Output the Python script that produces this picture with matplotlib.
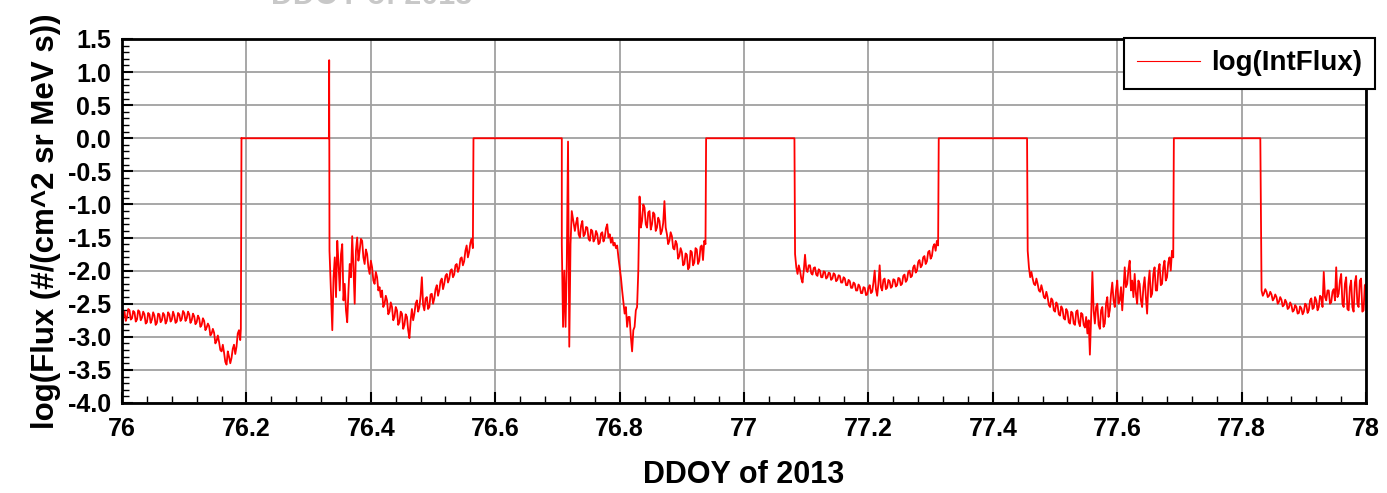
import numpy as np
import matplotlib
matplotlib.use('Agg')
import matplotlib.pyplot as plt
from matplotlib.ticker import MultipleLocator, FormatStrFormatter, FuncFormatter

plt.rcParams['font.family'] = ['Liberation Sans', 'DejaVu Sans']
plt.rcParams['font.weight'] = 'bold'
plt.rcParams['axes.unicode_minus'] = False

# log(IntFlux) samples: (start DDOY, step, values)
flux_a = [-2.85, -2.70, -2.62, -2.76, -2.70, -2.58, -2.60, -2.74, -2.72, -2.61,
          -2.63, -2.77, -2.74, -2.60, -2.62, -2.75, -2.71, -2.62, -2.66, -2.80,
          -2.78, -2.64, -2.66, -2.79, -2.74, -2.63, -2.68, -2.82, -2.79, -2.65,
          -2.66, -2.78, -2.75, -2.64, -2.67, -2.80, -2.76, -2.63, -2.66, -2.77,
          -2.74, -2.62, -2.68, -2.79, -2.77, -2.64, -2.66, -2.76, -2.73, -2.61,
          -2.64, -2.76, -2.72, -2.62, -2.66, -2.79, -2.75, -2.65, -2.69, -2.81,
          -2.78, -2.68, -2.72, -2.85, -2.82, -2.72, -2.76, -2.90, -2.86, -2.80,
          -2.84, -2.98, -2.95, -2.88, -2.94, -3.10, -3.06, -2.98, -3.08, -3.20,
          -3.22, -3.12, -3.24, -3.38, -3.42, -3.22, -3.30, -3.40, -3.32, -3.18,
          -3.12, -3.26, -3.15, -2.95, -2.90, -3.05]
flux_b = [-2.90, -2.10, -1.80, -2.40, -1.55, -1.90, -2.30, -1.75, -1.60, -2.45,
          -2.20, -2.60, -2.78, -2.30, -1.90, -2.10, -1.48, -1.95, -2.50, -1.70,
          -1.50, -1.85, -1.70, -1.52, -1.55, -1.80, -1.90, -1.68, -1.75, -1.95,
          -2.05, -1.85, -1.95, -2.15, -2.20, -2.02, -2.10, -2.30, -2.25, -2.40,
          -2.30, -2.55, -2.50, -2.38, -2.45, -2.66, -2.62, -2.48, -2.55, -2.75,
          -2.70, -2.55, -2.60, -2.82, -2.78, -2.62, -2.65, -2.88, -2.82, -2.66,
          -2.70, -2.90, -3.02, -2.75, -2.58, -2.75, -2.65, -2.50, -2.45, -2.62,
          -2.55, -2.38, -2.10, -2.52, -2.60, -2.42, -2.40, -2.58, -2.55, -2.36,
          -2.35, -2.50, -2.42, -2.28, -2.22, -2.38, -2.30, -2.16, -2.12, -2.28,
          -2.20, -2.08, -2.05, -2.18, -2.12, -2.00, -1.98, -2.10, -2.06, -1.92,
          -1.90, -2.02, -1.96, -1.82, -1.80, -1.92, -1.86, -1.70, -1.62, -1.80,
          -1.72, -1.58, -1.52, -1.66]
flux_c = [-1.60, -2.85, -2.00, -2.85, -1.90, -0.05, -3.15, -1.60, -1.10]
flux_d = [-1.40, -1.28, -1.20, -1.45, -1.50, -1.32, -1.25, -1.48, -1.45, -1.34,
          -1.35, -1.52, -1.55, -1.38, -1.40, -1.56, -1.52, -1.40, -1.45, -1.60,
          -1.58, -1.44, -1.42, -1.56, -1.50, -1.36, -1.30, -1.50, -1.45, -1.58,
          -1.50, -1.62, -1.58, -1.66, -1.62, -1.80, -1.95, -2.10, -2.30, -2.48,
          -2.65, -2.55, -2.85, -2.70, -2.70, -3.00, -3.22, -2.90, -2.85, -2.60,
          -2.55, -2.00, -0.88, -1.35, -1.25, -1.00, -1.05, -1.30, -1.35, -1.12,
          -1.10, -1.38, -1.30, -1.12, -1.15, -1.40, -1.35, -1.20, -1.25, -1.45,
          -1.40, -1.28, -0.95, -1.35, -1.45, -1.60, -1.55, -1.42, -1.48, -1.66,
          -1.68, -1.55, -1.60, -1.82, -1.78, -1.66, -1.72, -1.92, -1.90, -1.74,
          -1.76, -1.98, -1.95, -1.70, -1.72, -1.92, -1.88, -1.66, -1.68, -1.90,
          -1.85, -1.64, -1.62, -1.84, -1.55, -1.60]
flux_e = [-1.75, -1.95, -2.05, -1.92, -2.00, -2.12, -2.18, -2.00, -1.76, -1.98,
          -2.02, -1.92, -1.92, -2.04, -2.06, -1.96, -1.95, -2.06, -2.08, -1.98,
          -2.00, -2.10, -2.10, -2.01, -2.02, -2.12, -2.10, -2.03, -2.04, -2.14,
          -2.12, -2.04, -2.06, -2.16, -2.14, -2.07, -2.08, -2.18, -2.18, -2.10,
          -2.12, -2.22, -2.22, -2.14, -2.16, -2.26, -2.26, -2.18, -2.20, -2.30,
          -2.30, -2.21, -2.24, -2.34, -2.34, -2.25, -2.26, -2.37, -2.36, -2.26,
          -2.22, -2.34, -2.32, -2.18, -2.00, -2.28, -2.38, -2.20, -1.92, -2.25,
          -2.30, -2.14, -2.12, -2.28, -2.26, -2.14, -2.16, -2.26, -2.24, -2.13,
          -2.14, -2.24, -2.22, -2.11, -2.12, -2.22, -2.20, -2.08, -2.06, -2.17,
          -2.14, -2.02, -2.00, -2.10, -2.08, -1.95, -1.92, -2.03, -2.00, -1.87,
          -1.84, -1.95, -1.92, -1.80, -1.78, -1.90, -1.86, -1.72, -1.70, -1.82,
          -1.78, -1.64, -1.60, -1.70, -1.55, -1.62]
flux_f = [-1.70, -1.95, -2.10, -2.02, -2.12, -2.20, -2.22, -2.12, -2.20, -2.30,
          -2.32, -2.22, -2.30, -2.40, -2.42, -2.32, -2.40, -2.52, -2.55, -2.42,
          -2.45, -2.60, -2.62, -2.48, -2.52, -2.66, -2.68, -2.54, -2.58, -2.72,
          -2.74, -2.58, -2.62, -2.78, -2.80, -2.62, -2.64, -2.80, -2.82, -2.62,
          -2.60, -2.78, -2.84, -2.64, -2.66, -2.82, -2.86, -2.70, -2.95, -2.75,
          -3.27, -2.70, -2.02, -2.60, -2.80, -2.55, -2.50, -2.82, -2.88, -2.60,
          -2.55, -2.85, -2.80, -2.50, -2.40, -2.70, -2.60, -2.35, -2.18, -2.45,
          -2.55, -2.30, -2.15, -2.50, -2.45, -2.25, -2.60, -2.30, -1.95, -2.25,
          -2.20, -1.98, -1.85, -2.30, -2.15, -2.40, -2.05, -2.35, -2.50, -2.15,
          -2.20, -2.45, -2.55, -2.25, -2.10, -2.40, -2.65, -2.20, -2.00, -2.40,
          -2.35, -2.05, -1.95, -2.30, -2.30, -2.00, -1.90, -2.22, -2.20, -1.95,
          -1.85, -2.15, -2.10, -1.88, -1.80, -2.00, -1.70, -1.80]
flux_g = [-2.30, -2.38, -2.34, -2.28, -2.32, -2.40, -2.38, -2.32, -2.36, -2.45,
          -2.42, -2.36, -2.40, -2.50, -2.47, -2.40, -2.44, -2.54, -2.52, -2.44,
          -2.48, -2.58, -2.56, -2.48, -2.52, -2.62, -2.60, -2.52, -2.55, -2.65,
          -2.64, -2.54, -2.57, -2.66, -2.62, -2.50, -2.52, -2.64, -2.60, -2.45,
          -2.42, -2.58, -2.56, -2.40, -2.45, -2.60, -2.55, -2.38, -2.40, -2.55,
          -2.02, -2.40, -2.45, -2.30, -2.30, -2.50, -2.48, -2.32, -2.28, -2.45,
          -1.95, -2.40, -2.35, -2.15, -2.05, -2.50, -2.55, -2.20, -2.10, -2.58,
          -2.60, -2.25, -2.15, -2.55, -2.62, -2.18, -2.08, -2.50, -2.55, -2.15,
          -2.12, -2.62, -2.60, -2.22, -2.20, -2.45]

pieces = [
    (76.000, 0.002, flux_a),
    (76.191, 0.001, [-2.88, 0.0]),
    (76.192, 0.1405, [0.0, 0.0]),
    (76.333, 0.0005, [1.18, -1.70]),
    (76.338, 0.002, flux_b),
    (76.565, 0.142, [0.0, 0.0]),
    (76.707, 0.002, flux_c),
    (76.728, 0.002, flux_d),
    (76.939, 0.142, [0.0, 0.0]),
    (77.082, 0.002, flux_e),
    (77.313, 0.142, [0.0, 0.0]),
    (77.456, 0.002, flux_f),
    (77.691, 0.139, [0.0, 0.0]),
    (77.832, 0.002, flux_g),
]

t = np.concatenate([t0 + dt * np.arange(len(v)) for t0, dt, v in pieces])
y = np.concatenate([np.array(v, dtype=float) for t0, dt, v in pieces])

fig = plt.figure(figsize=(13.87, 4.93), dpi=100)
ax = fig.add_axes([0.088, 0.1826, 0.8969, 0.7383])

ax.plot(t, y, color='#ff0000', lw=1.3, label='log(IntFlux)')

ax.set_xlim(76, 78)
ax.set_ylim(-4.0, 1.5)
ax.xaxis.set_major_locator(MultipleLocator(0.2))
ax.xaxis.set_minor_locator(MultipleLocator(0.04))
ax.yaxis.set_major_locator(MultipleLocator(0.5))
ax.yaxis.set_minor_locator(MultipleLocator(0.1))
ax.xaxis.set_major_formatter(FuncFormatter(lambda v, p: '%g' % round(v, 2)))
ax.yaxis.set_major_formatter(FormatStrFormatter('%.1f'))

ax.grid(True, which='major', color='#a0a0a0', lw=1.3)
ax.tick_params(which='both', direction='in', colors='black', labelsize=18)
ax.tick_params(which='major', length=8, width=1.5)
ax.tick_params(which='minor', length=5, width=1)
ax.tick_params(axis='x', pad=10)
ax.tick_params(axis='y', pad=8)
for s in ax.spines.values():
    s.set_linewidth(2)

ax.set_xlabel('DDOY of 2013', fontsize=22, fontweight='bold', labelpad=14)
ax.set_ylabel('log(Flux (#/(cm^2 sr MeV s))', fontsize=22.5, fontweight='bold', labelpad=5)

leg = ax.legend(loc='upper right', bbox_to_anchor=(1375 / 1387, 1 - 38 / 493),
                bbox_transform=fig.transFigure, borderaxespad=0, fancybox=False,
                framealpha=1, edgecolor='black', fontsize=20, handlelength=2.3,
                handletextpad=0.4, borderpad=0.45)
leg.get_frame().set_linewidth(1.5)
leg.get_lines()[0].set_linewidth(0.8)
leg.set_zorder(5)

# clipped title at the very top of the frame
fig.text(0.268, 1 - 4 / 493, 'DDOY of 2013', fontsize=22, fontweight='bold',
         color='#c8c8c8', va='baseline', ha='center')

fig.savefig('out.png', dpi=100)
